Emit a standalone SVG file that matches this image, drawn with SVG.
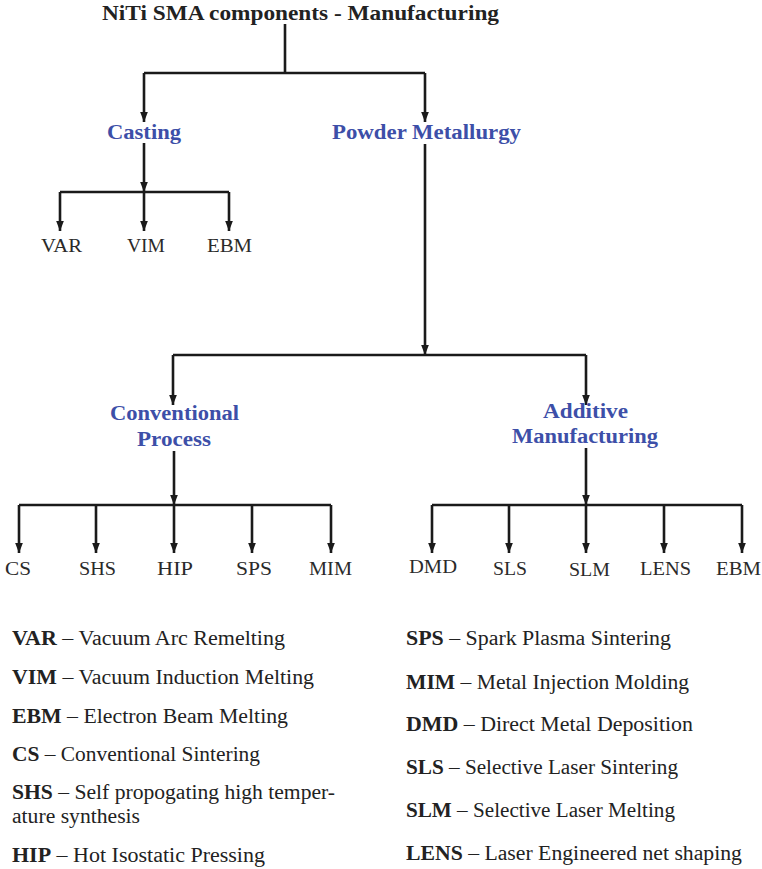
<svg xmlns="http://www.w3.org/2000/svg" width="762" height="869" viewBox="0 0 762 869">
<style>
text{font-family:"Liberation Serif","DejaVu Serif",serif;fill:#222;}
.title{font-size:21px;font-weight:bold;}
.cat{font-size:20px;font-weight:bold;fill:#3d4fa8;}
.leaf{font-size:19px;fill:#2a2a2a;}
.leg{font-size:20px;}
.leg tspan.b{font-weight:bold;}
.c{fill:none;stroke:#1a1a1a;stroke-width:2.6;}
</style>
<defs>
<marker id="ad" markerUnits="userSpaceOnUse" markerWidth="10" markerHeight="14" viewBox="0 0 13 10" refX="13" refY="5" orient="auto">
<path d="M0,0 L13,5 L0,10 Z" fill="#1a1a1a"/>
</marker>
</defs>
<g id="connectors">
<path class="c" d="M285,24 V73"/>
<path class="c" d="M144,73 H425"/>
<path class="c" d="M144,73 V122" marker-end="url(#ad)"/>
<path class="c" d="M425,73 V122" marker-end="url(#ad)"/>
<path class="c" d="M144,143 V192" marker-end="url(#ad)"/>
<path class="c" d="M60,192 H229"/>
<path class="c" d="M60,192 V231" marker-end="url(#ad)"/>
<path class="c" d="M144,192 V231" marker-end="url(#ad)"/>
<path class="c" d="M229,192 V231" marker-end="url(#ad)"/>
<path class="c" d="M425,144 V355" marker-end="url(#ad)"/>
<path class="c" d="M173,355 H586"/>
<path class="c" d="M173,355 V405" marker-end="url(#ad)"/>
<path class="c" d="M586,355 V405" marker-end="url(#ad)"/>
<path class="c" d="M174,451 V505" marker-end="url(#ad)"/>
<path class="c" d="M19,505 H331"/>
<path class="c" d="M19,505 V553" marker-end="url(#ad)"/>
<path class="c" d="M96,505 V553" marker-end="url(#ad)"/>
<path class="c" d="M174,505 V553" marker-end="url(#ad)"/>
<path class="c" d="M252,505 V553" marker-end="url(#ad)"/>
<path class="c" d="M331,505 V553" marker-end="url(#ad)"/>
<path class="c" d="M586,448 V505" marker-end="url(#ad)"/>
<path class="c" d="M432,505 H742"/>
<path class="c" d="M432,505 V553" marker-end="url(#ad)"/>
<path class="c" d="M509,505 V553" marker-end="url(#ad)"/>
<path class="c" d="M586,505 V553" marker-end="url(#ad)"/>
<path class="c" d="M664,505 V553" marker-end="url(#ad)"/>
<path class="c" d="M742,505 V553" marker-end="url(#ad)"/>
</g>
<g id="root"><text class="title" x="102" y="20" textLength="397" lengthAdjust="spacingAndGlyphs">NiTi SMA components - Manufacturing</text></g>
<g id="casting"><text class="cat" x="107" y="139" textLength="74" lengthAdjust="spacingAndGlyphs">Casting</text></g>
<g id="powder"><text class="cat" x="332" y="139" textLength="189" lengthAdjust="spacingAndGlyphs">Powder Metallurgy</text></g>
<g id="var"><text class="leaf" x="41" y="252" textLength="41" lengthAdjust="spacingAndGlyphs">VAR</text></g>
<g id="vim"><text class="leaf" x="127" y="252" textLength="38" lengthAdjust="spacingAndGlyphs">VIM</text></g>
<g id="ebm1"><text class="leaf" x="207" y="252" textLength="45" lengthAdjust="spacingAndGlyphs">EBM</text></g>
<g id="conventional"><text class="cat" x="110" y="420" textLength="129" lengthAdjust="spacingAndGlyphs">Conventional</text><text class="cat" x="137" y="446" textLength="74" lengthAdjust="spacingAndGlyphs">Process</text></g>
<g id="additive"><text class="cat" x="543" y="418" textLength="85" lengthAdjust="spacingAndGlyphs">Additive</text><text class="cat" x="512" y="443" textLength="146" lengthAdjust="spacingAndGlyphs">Manufacturing</text></g>
<g id="cs"><text class="leaf" x="5" y="575" textLength="26" lengthAdjust="spacingAndGlyphs">CS</text></g>
<g id="shs"><text class="leaf" x="79" y="575" textLength="37" lengthAdjust="spacingAndGlyphs">SHS</text></g>
<g id="hip"><text class="leaf" x="157" y="575" textLength="36" lengthAdjust="spacingAndGlyphs">HIP</text></g>
<g id="sps"><text class="leaf" x="236" y="575" textLength="36" lengthAdjust="spacingAndGlyphs">SPS</text></g>
<g id="mim"><text class="leaf" x="309" y="575" textLength="43" lengthAdjust="spacingAndGlyphs">MIM</text></g>
<g id="dmd"><text class="leaf" x="409" y="573" textLength="48" lengthAdjust="spacingAndGlyphs">DMD</text></g>
<g id="sls"><text class="leaf" x="493" y="575" textLength="34" lengthAdjust="spacingAndGlyphs">SLS</text></g>
<g id="slm"><text class="leaf" x="569" y="576" textLength="41" lengthAdjust="spacingAndGlyphs">SLM</text></g>
<g id="lens"><text class="leaf" x="640" y="575" textLength="51" lengthAdjust="spacingAndGlyphs">LENS</text></g>
<g id="ebm2"><text class="leaf" x="716" y="575" textLength="45" lengthAdjust="spacingAndGlyphs">EBM</text></g>
<g id="legend">
<text class="leg" x="12" y="645" textLength="273" lengthAdjust="spacingAndGlyphs"><tspan class="b">VAR</tspan> – Vacuum Arc Remelting</text>
<text class="leg" x="12" y="684" textLength="302" lengthAdjust="spacingAndGlyphs"><tspan class="b">VIM</tspan> – Vacuum Induction Melting</text>
<text class="leg" x="12" y="723" textLength="276" lengthAdjust="spacingAndGlyphs"><tspan class="b">EBM</tspan> – Electron Beam Melting</text>
<text class="leg" x="12" y="761" textLength="248" lengthAdjust="spacingAndGlyphs"><tspan class="b">CS</tspan> – Conventional Sintering</text>
<text class="leg" x="12" y="799" textLength="323" lengthAdjust="spacingAndGlyphs"><tspan class="b">SHS</tspan> – Self propogating high temper-</text>
<text class="leg" x="12" y="823" textLength="128" lengthAdjust="spacingAndGlyphs">ature synthesis</text>
<text class="leg" x="12" y="862" textLength="253" lengthAdjust="spacingAndGlyphs"><tspan class="b">HIP</tspan> – Hot Isostatic Pressing</text>
<text class="leg" x="406" y="645" textLength="265" lengthAdjust="spacingAndGlyphs"><tspan class="b">SPS</tspan> – Spark Plasma Sintering</text>
<text class="leg" x="406" y="689" textLength="283" lengthAdjust="spacingAndGlyphs"><tspan class="b">MIM</tspan> – Metal Injection Molding</text>
<text class="leg" x="406" y="731" textLength="287" lengthAdjust="spacingAndGlyphs"><tspan class="b">DMD</tspan> – Direct Metal Deposition</text>
<text class="leg" x="406" y="774" textLength="272" lengthAdjust="spacingAndGlyphs"><tspan class="b">SLS</tspan> – Selective Laser Sintering</text>
<text class="leg" x="406" y="817" textLength="269" lengthAdjust="spacingAndGlyphs"><tspan class="b">SLM</tspan> – Selective Laser Melting</text>
<text class="leg" x="406" y="860" textLength="336" lengthAdjust="spacingAndGlyphs"><tspan class="b">LENS</tspan> – Laser Engineered net shaping</text>
</g>
</svg>
